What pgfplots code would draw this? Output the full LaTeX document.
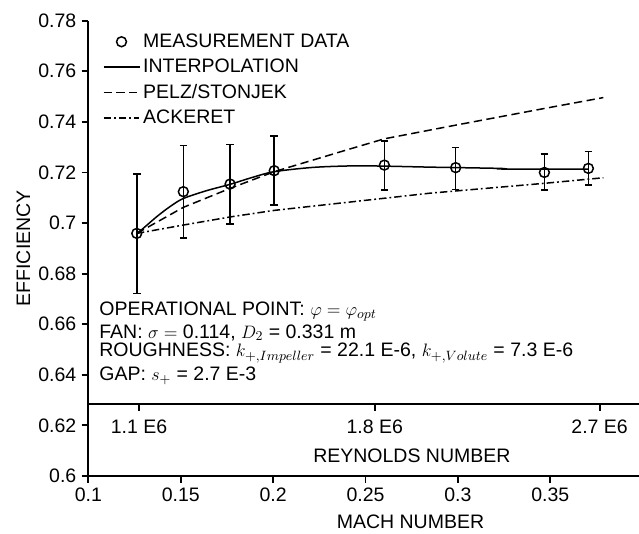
\documentclass[border=0pt]{standalone}
\usepackage{fontspec}
\setmainfont{Liberation Sans}
\usepackage{pgfplots}
\pgfplotsset{compat=1.18}

% measurement data: Mach, efficiency, error up, error down
\pgfplotstableread{
x      y      ep     em
0.1262 0.6959 0.0235 0.0237
0.1514 0.7124 0.0182 0.0184
0.1767 0.7154 0.0157 0.0158
0.2006 0.7207 0.0137 0.0136
0.2602 0.7229 0.0096 0.0099
0.2988 0.7219 0.0080 0.0086
0.3468 0.7200 0.0073 0.0070
0.3706 0.7216 0.0066 0.0066
}\meas

\newcommand{\lbl}{\fontsize{13}{15}\selectfont}

\begin{document}
\begin{tikzpicture}
\begin{axis}[
  at={(0,0)}, anchor=south west,
  scale only axis, width=367.1pt, height=303.5pt,
  xmin=0.1, xmax=0.398, ymin=0.6, ymax=0.78,
  axis lines*=left,
  axis line style={line width=1.3pt},
  clip=false,
  xtick={0.1,0.15,0.2,0.25,0.3,0.35},
  ytick={0.6,0.62,0.64,0.66,0.68,0.7,0.72,0.74,0.76,0.78},
  tick align=outside, major tick length=4.5pt,
  tick style={line width=1.2pt, black},
  ticklabel style={font=\lbl},
  /pgf/number format/assume math mode=true,
  xlabel={MACH NUMBER}, ylabel={EFFICIENCY},
  label style={font=\lbl},
  xlabel style={at={(axis description cs:0.585,-0.101)}, anchor=center},
  ylabel style={at={(axis description cs:-0.118,0.5)}, anchor=center, rotate=0},
  legend style={at={(0.0176,0.985)}, anchor=north west, draw=none, fill=none,
    font=\lbl, row sep=2.2pt},
  legend cell align=left,
  legend image code/.code={\draw[mark repeat=2,mark phase=2,#1]
    plot coordinates {(0cm,0cm) (0.42cm,0cm) (0.84cm,0cm)};},
]
\addplot[only marks, mark=o, mark size=3.3pt, line width=1pt, black,
  error bars/.cd, y dir=both, y explicit,
  error bar style={line width=1pt, black},
  error mark options={rotate=90, mark size=2.5pt, line width=1pt}]
  table[x=x, y=y, y error plus=ep, y error minus=em] {\meas};
\addlegendentry{MEASUREMENT DATA}

\addplot[black, line width=1pt, smooth, no marks] coordinates {
(0.1262,0.6959) (0.1289,0.6974) (0.1370,0.7025) (0.1442,0.7065)
(0.1514,0.7097) (0.1640,0.7128) (0.1767,0.7153) (0.1886,0.7180)
(0.2006,0.7203) (0.2216,0.7220) (0.2432,0.7226) (0.2602,0.7225)
(0.2849,0.7221) (0.3228,0.7216) (0.3264,0.7213) (0.3706,0.7213)};
\addlegendentry{INTERPOLATION}

\addplot[black, line width=1pt, dash pattern=on 5.5pt off 3pt, no marks] coordinates {
(0.1262,0.6959) (0.1514,0.7062) (0.1767,0.7137) (0.2006,0.7203)
(0.2398,0.7289) (0.2602,0.7333) (0.2988,0.7387) (0.3468,0.7453)
(0.3787,0.7496)};
\addlegendentry{PELZ/STONJEK}

\addplot[black, line width=1pt, dash pattern=on 5pt off 2pt on 1.2pt off 2pt, no marks] coordinates {
(0.1262,0.6959) (0.1514,0.6992) (0.1767,0.7024) (0.2006,0.7050)
(0.2602,0.7098) (0.2849,0.7118) (0.3468,0.7157) (0.3787,0.7179)};
\addlegendentry{ACKERET}

% Reynolds number scale
\draw[line width=1.3pt] (axis cs:0.1,0.6283) -- (axis cs:0.398,0.6283);
\draw[line width=1.2pt] (axis cs:0.1274,0.6283) -- (axis cs:0.1274,0.6255);
\draw[line width=1.2pt] (axis cs:0.2550,0.6283) -- (axis cs:0.2550,0.6255);
\draw[line width=1.2pt] (axis cs:0.3767,0.6283) -- (axis cs:0.3767,0.6255);
\node[font=\lbl] at (axis cs:0.1274,0.6195) {1.1 E6};
\node[font=\lbl] at (axis cs:0.2550,0.6195) {1.8 E6};
\node[font=\lbl] at (axis cs:0.3767,0.6195) {2.7 E6};
\node[font=\lbl] at (axis cs:0.2751,0.6079) {REYNOLDS NUMBER};

% operating conditions
\node[font=\lbl, anchor=west, inner sep=0pt] at (axis cs:0.1058,0.6649)
  {OPERATIONAL POINT: $\varphi = \varphi_{opt}$};
\node[font=\lbl, anchor=west, inner sep=0pt] at (axis cs:0.1058,0.6567)
  {FAN: $\sigma =$ 0.114, $D_2$ = 0.331 m};
\node[font=\lbl, anchor=west, inner sep=0pt] at (axis cs:0.1058,0.6486)
  {ROUGHNESS: $k_{+,Impeller}$ = 22.1 E-6, $k_{+,Volute}$ = 7.3 E-6};
\node[font=\lbl, anchor=west, inner sep=0pt] at (axis cs:0.1058,0.6397)
  {GAP: $s_+$ = 2.7 E-3};
\end{axis}
\pgfresetboundingbox
\path[use as bounding box] (-58.9pt,-38.7pt) rectangle (367.1pt,317.3pt);
\end{tikzpicture}
\end{document}
